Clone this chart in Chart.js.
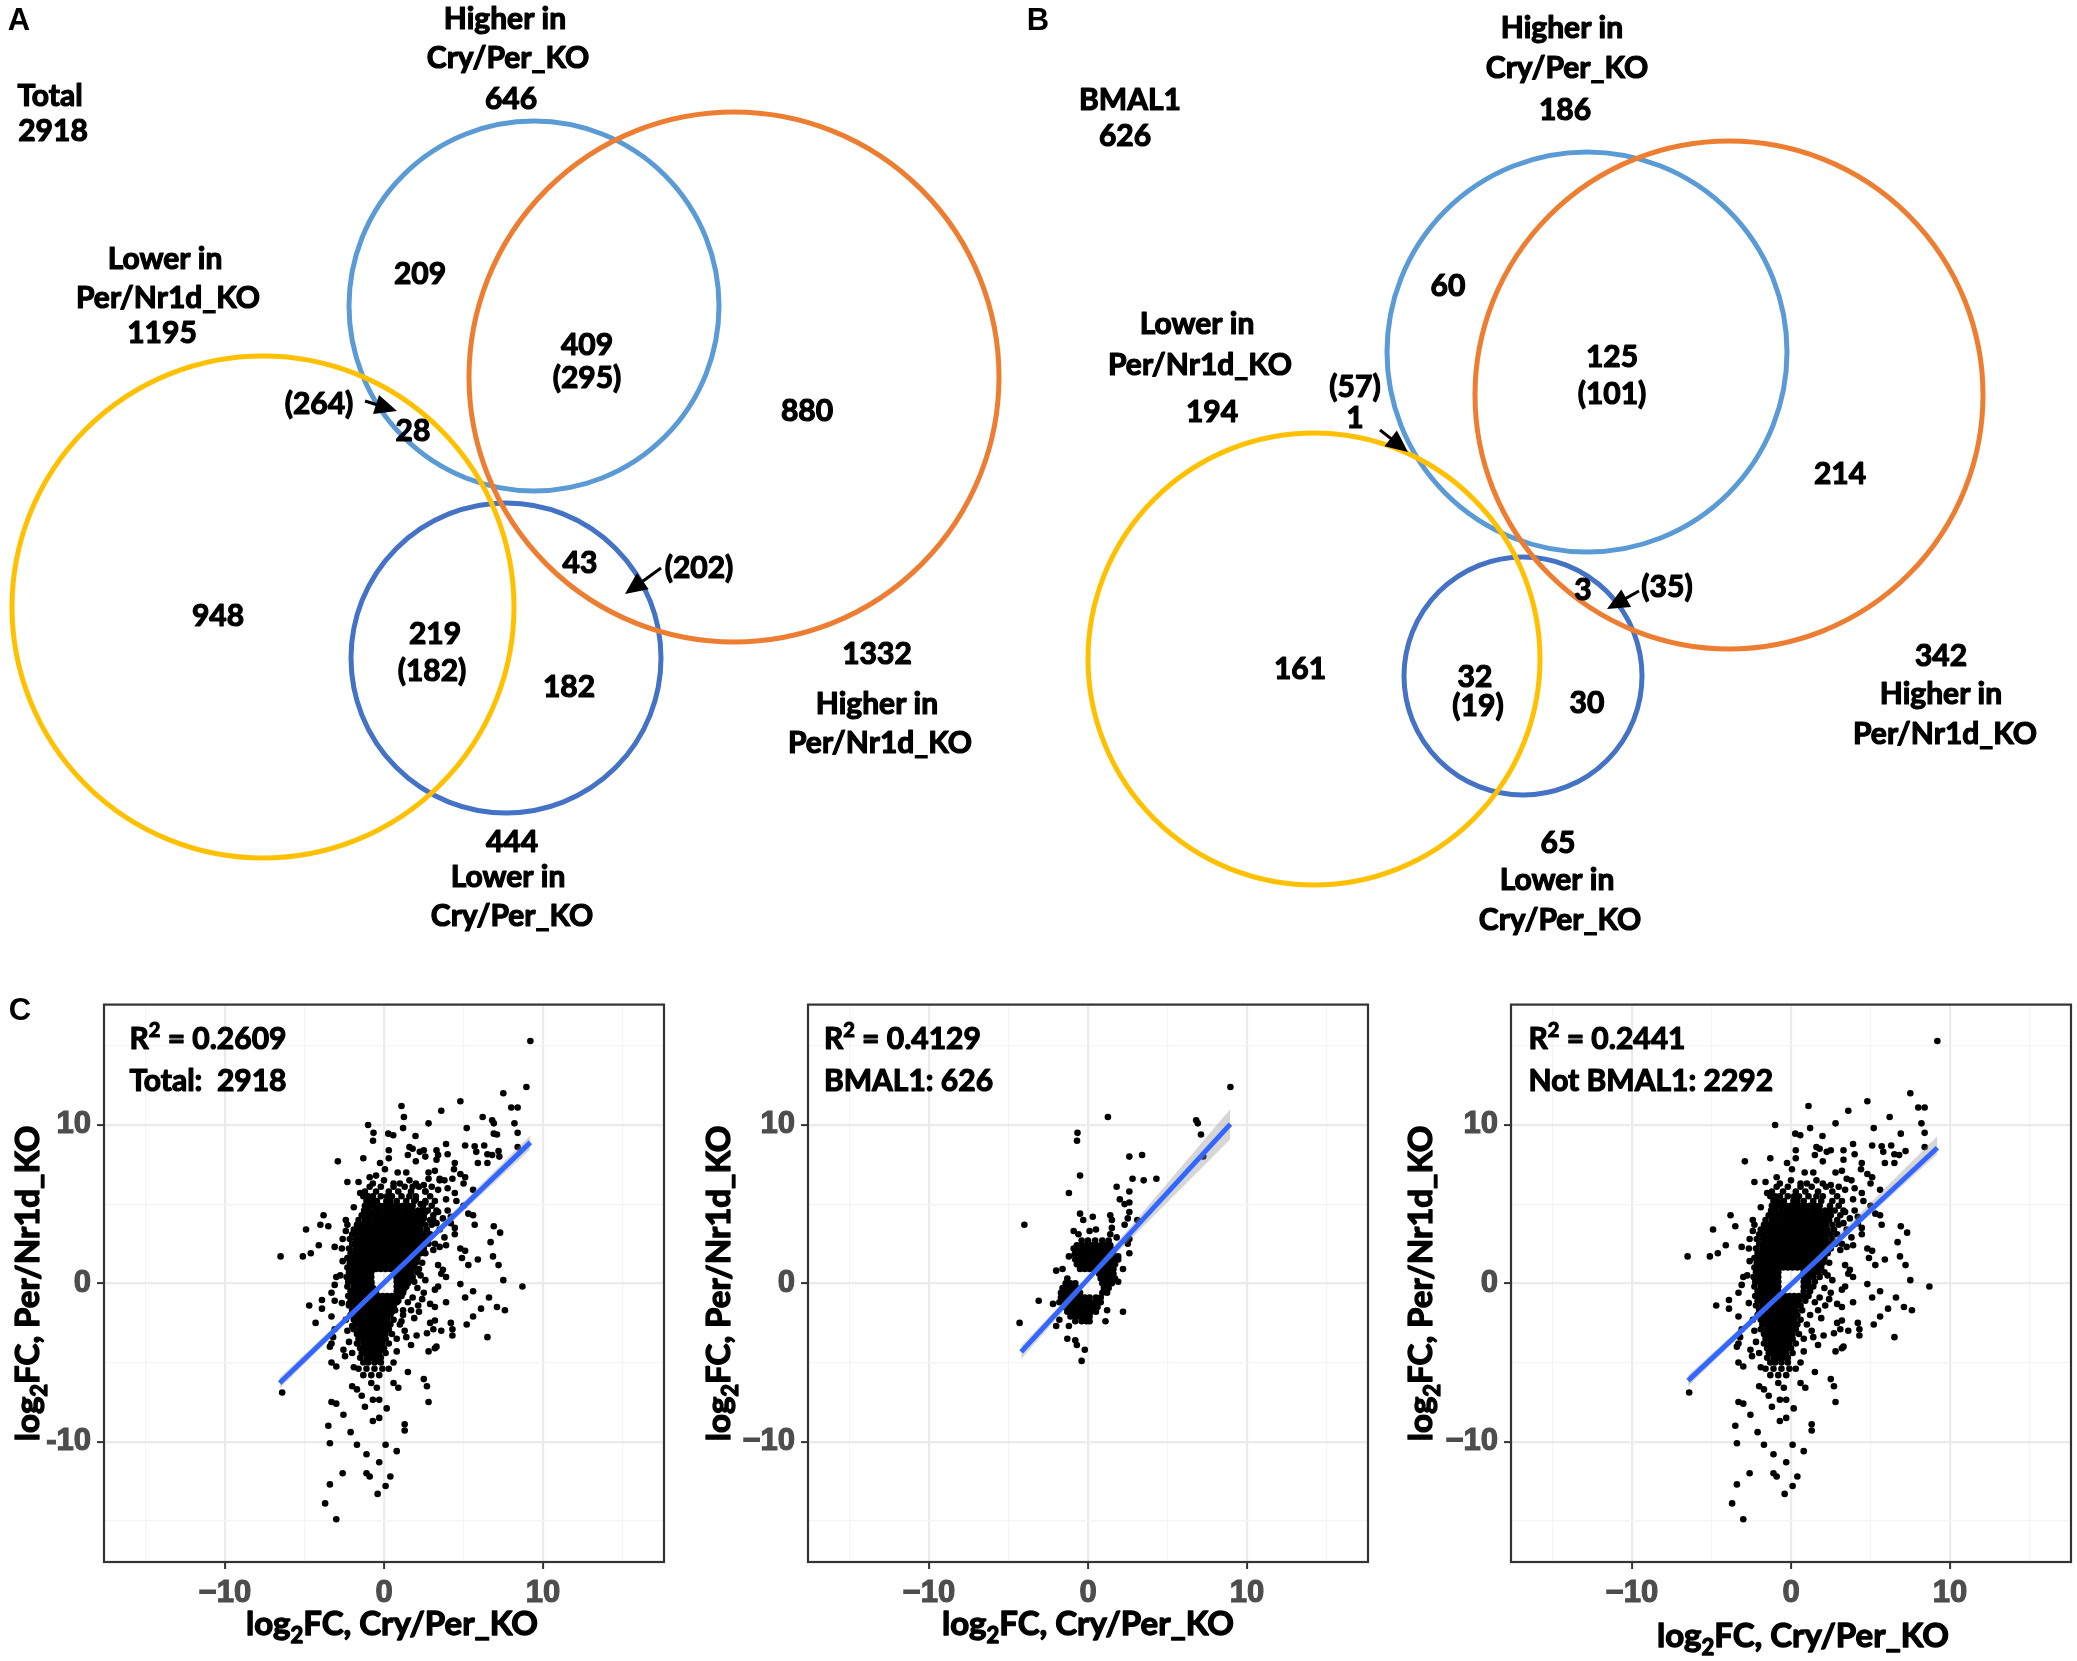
<!DOCTYPE html>
<html>
<head>
<meta charset="utf-8">
<script src="https://cdn.jsdelivr.net/npm/chart.js@4.4.1/dist/chart.umd.min.js"></script>
<style>
  html, body { margin: 0; padding: 0; background: #fff; }
  body { width: 2077px; height: 1661px; position: relative; overflow: hidden; }
  .panel { position: absolute; }
</style>
</head>
<body>
<div class="panel" style="left:0;top:0;width:1020px;height:960px"><canvas id="vennA"></canvas></div>
<div class="panel" style="left:1020px;top:0;width:1057px;height:960px"><canvas id="vennB"></canvas></div>
<div class="panel" style="left:0;top:980px;width:690px;height:681px"><canvas id="scTotal"></canvas></div>
<div class="panel" style="left:690px;top:980px;width:697px;height:681px"><canvas id="scBmal"></canvas></div>
<div class="panel" style="left:1387px;top:980px;width:690px;height:681px"><canvas id="scNot"></canvas></div>
<script>
// ---------- data ----------
// Venn A: all genes
const totalGenes = 2918;
const setNames = ['Higher in', 'Cry/Per_KO', 'Per/Nr1d_KO', 'Lower in'];
const vennASizes = [646, 1332, 1195, 444];      // up Cry/Per, up Per/Nr1d, down Per/Nr1d, down Cry/Per
const vennARegions = ['209', '409', '(295)', '880', '(264)', '28', '948', '43', '(202)', '219', '(182)', '182'];
// Venn B: BMAL1 targets
const bmal1Genes = 626;
const vennBSizes = [186, 342, 194, 65];
const vennBRegions = ['60', '125', '(101)', '214', '(57)', '1', '161', '3', '(35)', '32', '(19)', '30'];

// scatter: R^2 per subset
const r2Values = ['0.2609', '0.4129', '0.2441'];
const notBmal1Genes = 2292;
const tickValues = [-10, 0, 10];

// BMAL1 genes: dense core as rows [y, x...] and scattered points [x, y]
const bmal1Core = [
  [2.7, -0.4, 0.0, 0.45, 0.9, 1.3],
  [2.4, -0.7, -0.4, -0.1, 0.2, 0.5, 0.8, 1.1, 1.4],
  [2.1, -0.8, -0.5, -0.2, 0.1, 0.4, 0.7, 1.0, 1.3, 1.6],
  [1.8, -0.85, -0.5, -0.2, 0.1, 0.4, 0.7, 1.0, 1.3, 1.6],
  [1.5, -0.8, -0.5, -0.2, 0.1, 0.4, 0.7, 1.0, 1.3, 1.6, 1.9],
  [1.2, -0.7, -0.4, -0.1, 0.2, 0.5, 0.8, 1.1, 1.4, 1.7],
  [0.9, -0.5, -0.2, 0.1, 0.4, 0.7, 1.0, 1.3, 1.6],
  [0.6, 0.7, 1.0, 1.3, 1.6],
  [0.3, -1.3, 0.8, 1.1, 1.4, 1.7],
  [0.0, -1.4, -1.1, -0.8, 0.9, 1.2, 1.5],
  [-0.3, -1.6, -1.3, -1.0, -0.7, 1.0, 1.3],
  [-0.6, -1.7, -1.4, -1.1, -0.8, -0.5, 0.9, 1.2],
  [-0.9, -1.7, -1.4, -1.1, -0.8, -0.5, -0.2, 0.1, 0.5, 0.8],
  [-1.2, -1.6, -1.3, -1.0, -0.7, -0.4, -0.1, 0.2, 0.5, 0.8],
  [-1.5, -1.5, -1.2, -0.9, -0.6, -0.3, 0.0, 0.3, 0.6],
  [-1.8, -1.3, -1.0, -0.7, -0.4, -0.1, 0.2, 0.5],
  [-2.1, -1.1, -0.8, -0.5, -0.2, 0.1],
  [-2.4, -0.8, -0.4, -0.1]
];
const bmal1Spread = [
  [8.95,12.4],[1.25,10.5],[6.8,10.3],[6.9,10.1],[-0.66,9.5],[-0.69,9.0],[7.1,9.4],[7.25,8.0],[2.6,8.0],[3.4,8.1],
  [-0.5,6.8],[2.8,6.6],[3.5,6.5],[4.3,6.6],[-1.2,5.7],[1.8,6.1],[2.6,5.8],[2.0,5.3],[2.3,5.0],[2.6,5.1],
  [-4.0,3.7],[-0.5,4.4],[-0.3,4.0],[0.3,4.2],[1.4,4.3],[1.5,4.0],[2.6,4.5],[2.5,4.1],[3.1,4.0],[-0.9,3.3],
  [-0.6,3.1],[0.1,3.3],[0.5,3.4],[1.5,3.5],[1.4,3.1],[2.3,3.7],[1.8,2.9],[2.6,2.8],[2.5,2.5],[-0.9,2.2],
  [-1.2,1.7],[1.9,1.7],[2.6,1.9],[-2.0,0.8],[-1.6,0.9],[2.2,0.9],[1.9,0.1],[-3.1,-1.1],[-2.2,-1.3],[-1.8,-1.2],
  [-4.3,-2.5],[2.2,-1.8],[1.2,-1.7],[1.1,-2.4],[-2.0,-2.7],[-1.8,-2.3],[0.1,-2.4],[-1.2,-2.7],[-1.3,-3.5],
  [-0.8,-3.6],[-0.7,-3.9],[-0.2,-4.2],[-0.4,-4.9]
];

// Not-BMAL1 genes
const notBmal1Core = [
  [6.1, -0.9, -0.2, 0.6, 1.3, 2.2],
  [5.8, -1.2, -0.5, 0.3, 0.9, 1.7, 2.6],
  [5.5, -1.0, -0.7, -0.2, 0.2, 0.5, 1.1, 1.6, 2.0, 2.9],
  [5.2, -1.1, -0.8, -0.45, 0.15, 0.4, 0.8, 1.4, 1.9, 2.6, 3.2],
  [4.9, -1.2, -0.9, -0.6, -0.3, 0.0, 0.3, 0.6, 0.9, 1.2, 1.5, 1.8, 2.45, 3.0],
  [4.6, -1.25, -0.95, -0.6, -0.3, 0.05, 0.3, 0.6, 0.9, 1.25, 1.5, 1.8, 2.15, 2.4, 2.75, 3.3],
  [4.3, -1.4, -1.1, -0.8, -0.5, -0.2, 0.1, 0.4, 0.7, 1.0, 1.3, 1.6, 1.9, 2.2, 2.5, 3.1],
  [4.0, -1.6, -1.2, -0.9, -0.55, -0.3, 0.0, 0.3, 0.6, 0.95, 1.2, 1.5, 1.8, 2.1, 2.4, 2.9],
  [3.7, -1.7, -1.4, -1.1, -0.8, -0.5, -0.2, 0.1, 0.4, 0.7, 1.0, 1.3, 1.6, 1.9, 2.2, 2.6, 3.0],
  [3.4, -1.9, -1.6, -1.3, -1.0, -0.7, -0.4, -0.1, 0.2, 0.5, 0.8, 1.1, 1.4, 1.7, 2.0, 2.3, 2.7],
  [3.1, -2.0, -1.7, -1.4, -1.1, -0.8, -0.5, -0.2, 0.1, 0.4, 0.7, 1.0, 1.3, 1.6, 1.9, 2.2, 2.5, 2.9],
  [2.8, -2.15, -1.75, -1.4, -1.1, -0.8, -0.5, -0.2, 0.1, 0.4, 0.7, 1.0, 1.3, 1.6, 1.9, 2.2, 2.6],
  [2.5, -2.0, -1.7, -1.5, -1.2, -0.9, -0.6, -0.3, 0.0, 0.3, 0.6, 0.9, 1.2, 1.5, 1.8, 2.1, 2.4, 2.8],
  [2.2, -2.2, -1.8, -1.5, -1.2, -0.9, -0.6, -0.3, 0.0, 0.3, 0.6, 0.9, 1.2, 1.5, 1.8, 2.1, 2.5],
  [1.9, -2.1, -1.9, -1.6, -1.3, -1.0, -0.7, -0.4, -0.1, 0.2, 0.5, 0.8, 1.1, 1.4, 1.7, 2.0, 2.3],
  [1.6, -2.3, -1.95, -1.6, -1.3, -1.0, -0.7, -0.4, -0.1, 0.2, 0.5, 0.8, 1.1, 1.4, 1.7, 2.1],
  [1.3, -2.15, -1.9, -1.6, -1.3, -1.0, -0.7, -0.4, -0.1, 0.2, 0.5, 0.8, 1.1, 1.4, 1.7, 2.0, 2.4],
  [1.0, -2.3, -2.0, -1.7, -1.4, -1.1, -0.8, -0.5, -0.2, 0.1, 0.4, 0.7, 1.0, 1.3, 1.6, 1.9],
  [0.7, -2.2, -2.0, -1.7, -1.4, -1.1, -0.8, 0.8, 1.1, 1.4, 1.7, 2.1],
  [0.4, -2.35, -2.0, -1.7, -1.4, -1.1, -0.8, 0.8, 1.1, 1.4, 1.8],
  [0.1, -2.25, -2.0, -1.7, -1.4, -1.1, -0.8, 0.8, 1.1, 1.5],
  [-0.2, -2.3, -1.9, -1.6, -1.3, -1.0, -0.8, 0.8, 1.1, 1.4],
  [-0.5, -2.1, -1.9, -1.6, -1.3, -1.0, -0.8, 0.8, 1.2],
  [-0.8, -2.25, -1.9, -1.6, -1.3, -1.0, -0.7, -0.4, -0.1, 0.2, 0.5, 0.8, 1.1],
  [-1.1, -2.1, -1.9, -1.6, -1.3, -1.0, -0.7, -0.4, -0.1, 0.2, 0.5, 0.9],
  [-1.4, -2.2, -1.8, -1.5, -1.2, -0.9, -0.6, -0.3, 0.0, 0.3, 0.6],
  [-1.7, -2.0, -1.8, -1.5, -1.2, -0.9, -0.6, -0.3, 0.0, 0.3, 0.7],
  [-2.0, -2.1, -1.7, -1.4, -1.1, -0.8, -0.5, -0.2, 0.1, 0.4],
  [-2.3, -1.9, -1.6, -1.3, -1.0, -0.7, -0.4, -0.1, 0.2, 0.6],
  [-2.6, -1.8, -1.6, -1.3, -1.0, -0.7, -0.4, -0.1, 0.2, 0.4],
  [-2.9, -1.9, -1.5, -1.2, -0.9, -0.6, -0.3, 0.0, 0.3],
  [-3.2, -1.7, -1.4, -1.1, -0.8, -0.5, -0.2, 0.1, 0.5],
  [-3.5, -1.6, -1.4, -1.1, -0.8, -0.5, -0.2, 0.1],
  [-3.8, -1.7, -1.3, -1.0, -0.7, -0.4, -0.1, 0.3],
  [-4.1, -1.5, -1.2, -0.9, -0.6, -0.3, 0.0],
  [-4.4, -1.4, -1.2, -0.9, -0.6, -0.3, 0.1],
  [-4.7, -1.5, -1.1, -0.8, -0.5, -0.2],
  [-5.0, -1.3, -1.0, -0.6, -0.2],
  [-5.4, -1.6, -1.1, -0.6, -0.1],
  [-5.8, -1.3, -0.8, -0.3]
];
const notBmal1Spread = [
  [0.27,9.45],[0.58,9.35],[1.98,9.3],[3.9,8.8],[5.1,8.7],[5.7,8.65],[6.3,8.7],[6.9,9.45],
  [-2.9,7.7],[-1.3,7.9],[0.3,8.4],[0.3,7.9],[1.6,8.6],[1.8,8.5],[1.5,8.1],[2.0,7.7],[2.25,8.3],[2.5,8.4],
  [3.3,8.4],[3.3,7.8],[4.0,8.15],[4.45,7.6],[5.8,8.3],[6.5,8.15],[7.2,8.35],[6.8,8.1],[6.5,7.6],[5.9,7.6],
  [-0.25,7.6],[0.06,7.2],[0.86,7.0],[-2.3,6.4],[-1.6,6.4],[-0.9,6.7],[-0.7,6.3],[0,6.5],[0.6,6.3],[1.0,6.3],
  [1.4,7.0],[1.6,6.5],[2.8,7.0],[3.2,7.1],[3.5,6.6],[3.8,6.5],[4.4,7.2],[4.8,6.9],[5.1,6.7],[5.0,6.3],[5.6,5.9],
  [-1.5,5.7],[-1.3,5.5],[-1.9,4.8],[2.0,6.3],[2.5,6.2],[3.0,6.1],[3.4,5.9],[4.0,6.0],[4.45,5.7],[3.9,5.3],
  [4.55,5.2],[5.0,4.9],[5.3,4.4],[4.0,4.6],[4.2,4.2],
  [-3.8,4.3],[-3.5,3.6],[-4.9,3.4],[-2.4,4.0],[-2.3,3.7],[-3.1,2.3],[-2.65,2.2],[-4.1,2.4],[-4.6,1.9],[-5.1,1.7],
  [-3.0,0.4],[-2.75,0.5],[-3.1,-0.1],[-3.3,-0.6],[-3.9,-1.05],[-4.7,-1.4],[-3.9,-1.6],[-3.3,-2.1],[-2.65,-1.25],
  [-3.1,-2.9],[-3.2,-3.4],[-3.3,-3.8],[-3.4,-4.0],[-2.55,-4.2],[-2.45,-4.6],[-3.3,-5.0],[-3.0,-5.25],[-3.3,-7.5],
  [-3.0,-7.6],[-2.55,-8.3],[-3.5,-9.0],[-2.0,-6.5],[-1.7,-6.7],[-1.4,-7.1],[-1.2,-7.8],[-0.8,-6.3],[-0.45,-6.6],
  [-0.7,-7.35],[-0.3,-7.35],[0.17,-7.9],[-0.7,-8.7],[-0.3,-8.5],[1.3,-8.9],[0.6,-6.3],[0.9,-6.6],[1.5,-5.6],
  [2.5,-6.05],[2.7,-6.5],[2.8,-7.5],
  [3.3,-4.0],[2.8,-4.3],[3.2,-4.1],[1.7,-3.9],[1.4,-3.4],[2.05,-3.3],[2.9,-2.5],[3.2,-2.35],[3.6,-3.0],[4.3,-3.3],
  [6.5,-3.4],[5.2,-2.6],[5.6,-2.1],[3.9,-1.2],[5.1,-0.9],[4.8,-0.05],[5.6,-0.5],[6.1,-1.6],[6.6,-0.9],[7.1,-1.5],
  [7.6,-1.7],[4.9,1.6],[5.3,1.15],[5.9,1.5],[6.85,1.7],[7.2,1.15],[7.5,0.2],[3.6,0.6],[3.9,0.4],[3.4,1.15],
  [3.7,0.85],[3.9,2.4],[4.45,3.1],[4.8,2.2],[5.1,2.05],[5.7,3.7],[5.6,4.3],[6.7,2.6],[6.9,3.6],[7.3,3.2],
  [4.2,3.8],[4.45,3.5],[3.5,3.4],[3.8,2.9],[3.2,2.5],[3.1,2.1],[3.5,2.3],[3.2,-0.4],[3.4,-0.2],[2.9,-1.3],
  [3.2,-1.5],[2.15,-1.4],[1.7,-1.7],[2.7,-3.15],[3.1,-2.9],[4.2,-2.5],[4.3,-2.9],
  [2.3,0.5],[2.6,0.2],[2.1,-0.3],[2.5,-0.6],[1.8,-0.9],[2.4,-1.0],[1.5,-1.2],[1.9,-2.2],[1.2,-2.0],[1.0,-2.6],
  [1.3,-3.0],[0.8,-3.5],[0.8,-4.3],[0.6,-5.0],[0.3,-5.4],[-2.4,-2.3],[-2.3,-3.0],[-2.2,-3.7],[-2.0,-4.4],
  [-1.9,-5.3],[-2.6,1.4],[-2.6,2.8],[-2.4,3.3],[3.4,4.5],[3.7,4.1],[3.3,3.8],
  [9.2,15.3],[7.5,12.0],[4.8,11.5],[1.1,11.2],[3.6,10.9],[8.0,11.1],[8.4,11.1],[6.2,10.5],[2.8,10.1],[-1.0,10.0],
  [8.2,10.1],[5.2,9.8],[1.2,9.8],[8.4,9.5],[8.4,8.6],[8.7,-0.2],[-6.5,1.7],[-6.4,-6.9],[-3.4,-10.1],[-1.7,-10.2],
  [0.1,-10.2],[-1.1,-10.8],[0.8,-10.6],[-0.3,-11.3],[-2.6,-12.0],[-1.1,-12.0],[-0.9,-12.2],[0.4,-12.2],
  [-3.4,-12.7],[0.1,-12.8],[-0.4,-13.3],[-3.7,-13.9],[-3.0,-14.9],[-2.1,-9.4],[1.3,-9.3]
];

// linear fits: end points and confidence band [x, lower, upper]
const fitTotal = [[-6.56, -6.3], [9.2, 8.9]];
const bandTotal = [[-6.56, -6.65, -5.95], [0.3, 0.2, 0.44], [9.2, 8.45, 9.35]];
const fitBmal1 = [[-4.2, -4.33], [8.95, 10.05]];
const bandBmal1 = [[-4.2, -4.8, -3.95], [0.3, 0.4, 0.78], [8.95, 9.1, 11.0]];
const fitNotBmal1 = [[-6.47, -6.15], [9.2, 8.56]];
const bandNotBmal1 = [[-6.47, -6.5, -5.8], [0.3, 0.08, 0.36], [9.2, 8.15, 9.3]];

// ---------- helpers ----------
const TEXT_FONT = 'Lato';
const AXIS_FONT = 'Liberation Sans';
const VENN_COLORS = { lightBlue: '#5B9BD5', orange: '#ED7D31', yellow: '#FFC000', darkBlue: '#4472C4' };

const rowsToPoints = rows => rows.flatMap(([y, ...xs]) => xs.map(x => ({ x, y })));
const pairsToPoints = pairs => pairs.map(([x, y]) => ({ x, y }));

// text with optional sub (1) / superscript (2) parts, a light stroke makes it as heavy as the original
function drawRich(ctx, parts, x, yCenter, size, align) {
  const fontFor = m => `bold ${m ? Math.round(size * 0.66) : size}px ${TEXT_FONT}`;
  let w = 0;
  parts.forEach(([t, m]) => { ctx.font = fontFor(m); w += ctx.measureText(t).width; });
  let cx = align === 'center' ? x - w / 2 : x;
  const base = yCenter + size * 0.36;
  ctx.textAlign = 'left';
  ctx.textBaseline = 'alphabetic';
  ctx.strokeStyle = ctx.fillStyle;
  ctx.lineWidth = size * 0.04;
  ctx.lineJoin = 'round';
  parts.forEach(([t, m]) => {
    ctx.font = fontFor(m);
    const dy = m === 1 ? size * 0.24 : m === 2 ? -size * 0.4 : 0;
    ctx.fillText(t, cx, base + dy);
    ctx.strokeText(t, cx, base + dy);
    cx += ctx.measureText(t).width;
  });
}

function drawArrow(ctx, x1, y1, x2, y2) {
  const a = Math.atan2(y2 - y1, x2 - x1);
  const head = 22, half = 10;
  ctx.lineWidth = 3;
  ctx.strokeStyle = '#000';
  ctx.beginPath();
  ctx.moveTo(x1, y1);
  ctx.lineTo(x2 - Math.cos(a) * head * 0.8, y2 - Math.sin(a) * head * 0.8);
  ctx.stroke();
  ctx.beginPath();
  ctx.moveTo(x2, y2);
  ctx.lineTo(x2 - Math.cos(a) * head - Math.sin(a) * half, y2 - Math.sin(a) * head + Math.cos(a) * half);
  ctx.lineTo(x2 - Math.cos(a) * head + Math.sin(a) * half, y2 - Math.sin(a) * head - Math.cos(a) * half);
  ctx.closePath();
  ctx.fill();
}

// ---------- Venn diagrams ----------
function vennChart(id, widthUnits, circles, labels, arrows, letter) {
  const textPlugin = {
    id: 'vennText',
    afterDatasetsDraw(chart) {
      const { ctx, scales: { x, y } } = chart;
      ctx.save();
      ctx.fillStyle = '#000';
      labels.forEach(([t, lx, ly]) => drawRich(ctx, [[t, 0]], x.getPixelForValue(lx), y.getPixelForValue(ly), 30, 'center'));
      arrows.forEach(([ax, ay, bx, by]) => drawArrow(ctx, x.getPixelForValue(ax), y.getPixelForValue(ay), x.getPixelForValue(bx), y.getPixelForValue(by)));
      ctx.font = `bold 31px ${AXIS_FONT}`;
      ctx.textAlign = 'center';
      ctx.textBaseline = 'middle';
      ctx.fillText(letter[0], x.getPixelForValue(letter[1]), y.getPixelForValue(letter[2]));
      ctx.restore();
    }
  };
  const radiusPx = ctx => {
    const sx = ctx.chart.scales.x;
    return ctx.raw ? Math.abs(sx.getPixelForValue(ctx.raw.x + ctx.raw.r) - sx.getPixelForValue(ctx.raw.x)) : 0;
  };
  new Chart(document.getElementById(id), {
    type: 'scatter',
    data: {
      datasets: circles.map((c, i) => ({
        data: [{ x: c.cx, y: c.cy, r: c.r }],
        borderColor: c.color,
        backgroundColor: 'rgba(0,0,0,0)',
        borderWidth: 5,
        pointRadius: radiusPx,
        pointHoverRadius: radiusPx,
        order: circles.length - i
      }))
    },
    options: {
      responsive: true, maintainAspectRatio: false, animation: false, events: [],
      layout: { padding: 0 },
      plugins: { legend: { display: false }, tooltip: { enabled: false } },
      scales: {
        x: { type: 'linear', min: 0, max: widthUnits, display: false },
        y: { type: 'linear', min: 0, max: 96, reverse: true, display: false }
      }
    },
    plugins: [textPlugin]
  });
}

// panel A (1 unit = 10 px)
vennChart('vennA', 102, [
  { cx: 53.4, cy: 30.6, r: 18.5, color: VENN_COLORS.lightBlue },
  { cx: 50.6, cy: 65.8, r: 15.5, color: VENN_COLORS.darkBlue },
  { cx: 26.3, cy: 60.7, r: 25.1, color: VENN_COLORS.yellow },
  { cx: 73.4, cy: 37.7, r: 26.5, color: VENN_COLORS.orange }
], [
  ['Total', 5.0, 9.5], [String(totalGenes), 5.3, 13.0],
  [setNames[0], 50.5, 1.8], [setNames[1], 50.8, 5.7], [String(vennASizes[0]), 51.1, 9.8],
  ['Lower in', 16.5, 25.8], [setNames[2], 16.8, 29.7], [String(vennASizes[2]), 16.2, 33.2],
  [vennARegions[0], 42.0, 27.3], [vennARegions[1], 58.7, 34.4], [vennARegions[2], 58.7, 37.7],
  [vennARegions[3], 80.7, 41.0], [vennARegions[4], 31.9, 40.3], [vennARegions[5], 41.3, 43.0],
  [vennARegions[6], 21.8, 61.5], [vennARegions[7], 58.0, 56.2], [vennARegions[8], 69.9, 56.7],
  [vennARegions[9], 43.5, 63.3], [vennARegions[10], 43.2, 67.0], [vennARegions[11], 56.9, 68.6],
  [String(vennASizes[1]), 87.7, 65.3], [setNames[0], 87.7, 70.3], [setNames[2], 88.0, 74.2],
  [String(vennASizes[3]), 51.2, 84.1], [setNames[3], 50.8, 87.6], [setNames[1], 51.2, 91.5]
], [
  [36.5, 40.1, 39.7, 41.1],
  [66.1, 56.8, 62.5, 59.4]
], ['A', 1.9, 2.1]);

// panel B
vennChart('vennB', 105.7, [
  { cx: 56.7, cy: 35.2, r: 20.0, color: VENN_COLORS.lightBlue },
  { cx: 50.3, cy: 67.6, r: 11.9, color: VENN_COLORS.darkBlue },
  { cx: 29.4, cy: 65.9, r: 22.6, color: VENN_COLORS.yellow },
  { cx: 70.9, cy: 39.5, r: 25.4, color: VENN_COLORS.orange }
], [
  ['BMAL1', 11.0, 9.9], [String(bmal1Genes), 10.5, 13.5],
  [setNames[0], 54.2, 2.7], [setNames[1], 54.7, 6.7], [String(vennBSizes[0]), 54.5, 10.9],
  ['Lower in', 17.7, 32.3], [setNames[2], 18.0, 36.4], [String(vennBSizes[2]), 19.2, 41.1],
  [vennBRegions[0], 42.8, 28.5], [vennBRegions[1], 59.2, 35.6], [vennBRegions[2], 59.2, 39.3],
  [vennBRegions[3], 82.0, 47.3], [vennBRegions[4], 33.5, 38.6], [vennBRegions[5], 33.5, 41.7],
  [vennBRegions[6], 28.0, 66.8], [vennBRegions[7], 56.3, 58.9], [vennBRegions[8], 64.7, 58.6],
  [vennBRegions[9], 45.5, 67.6], [vennBRegions[10], 45.8, 70.5], [vennBRegions[11], 56.7, 70.2],
  [String(vennBSizes[1]), 92.1, 65.5], [setNames[0], 92.1, 69.3], [setNames[2], 92.5, 73.3],
  [String(vennBSizes[3]), 53.8, 84.2], [setNames[3], 53.7, 87.9], [setNames[1], 54.0, 91.9]
], [
  [36.0, 43.0, 38.8, 45.2],
  [61.9, 59.1, 58.7, 60.9]
], ['B', 1.8, 2.1]);

// ---------- scatter panels ----------
function scatterChart(id, points, fit, band, notes, layout) {
  const minus = (v, sign) => (v < 0 ? sign + Math.abs(v) : String(v));
  const isMajor = c => c.tick && tickValues.includes(c.tick.value);
  const axisOpts = (isX) => ({
    type: 'linear', min: -17.6, max: 17.6,
    ticks: {
      stepSize: 5, includeBounds: false, autoSkip: false, maxRotation: 0,
      padding: 6, color: '#4D4D4D',
      textStrokeColor: '#4D4D4D', textStrokeWidth: 1.2,
      font: { family: AXIS_FONT, size: 31, weight: 'bold' },
      callback: v => (tickValues.includes(v) ? minus(v, isX ? '\u2212' : layout.ySign) : '')
    },
    grid: {
      color: c => (isMajor(c) ? '#EBEBEB' : '#F4F4F4'),
      lineWidth: c => (isMajor(c) ? 2.2 : 1.2),
      tickColor: c => (isMajor(c) ? '#333333' : 'rgba(0,0,0,0)'),
      tickLength: 7, tickWidth: 2
    },
    border: { display: false },
    afterFit: s => { if (isX) s.height = 99; else s.width = layout.axisW; }
  });
  const framePlugin = {
    id: 'frame',
    afterDraw(chart) {
      const { ctx, chartArea: a, scales: { x, y } } = chart;
      ctx.save();
      ctx.strokeStyle = '#333333';
      ctx.lineWidth = 2.2;
      ctx.strokeRect(a.left, a.top, a.right - a.left, a.bottom - a.top);
      ctx.fillStyle = '#000';
      drawRich(ctx, [['R', 0], ['2', 2], [' = ' + notes[0], 0]], x.getPixelForValue(notes[2]), y.getPixelForValue(15.5), 30, 'left');
      drawRich(ctx, [[notes[1], 0]], x.getPixelForValue(notes[2]), y.getPixelForValue(12.8), 30, 'left');
      drawRich(ctx, [['log', 0], ['2', 1], ['FC, Cry/Per_KO', 0]], (a.left + a.right) / 2 + layout.xTitleDx, layout.xTitleY, 33, 'center');
      ctx.save();
      ctx.translate(layout.yTitleX, (a.top + a.bottom) / 2);
      ctx.rotate(-Math.PI / 2);
      drawRich(ctx, [['log', 0], ['2', 1], ['FC, Per/Nr1d_KO', 0]], 0, 0, 33, 'center');
      ctx.restore();
      if (layout.letter) {
        ctx.font = `bold 31px ${AXIS_FONT}`;
        ctx.textAlign = 'center';
        ctx.textBaseline = 'middle';
        ctx.fillText(layout.letter, 20, 31);
      }
      ctx.restore();
    }
  };
  new Chart(document.getElementById(id), {
    type: 'scatter',
    data: {
      datasets: [
        { data: band.map(b => ({ x: b[0], y: b[1] })), showLine: true, borderWidth: 0, borderColor: 'rgba(0,0,0,0)', pointRadius: 0, fill: false, order: 1 },
        { data: band.map(b => ({ x: b[0], y: b[2] })), showLine: true, borderWidth: 0, borderColor: 'rgba(0,0,0,0)', pointRadius: 0, fill: '-1', backgroundColor: 'rgba(153,153,153,0.4)', order: 1 },
        { data: points, pointRadius: 3.3, pointBackgroundColor: '#000', pointBorderWidth: 0, order: 2 },
        { data: fit.map(([x, y]) => ({ x, y })), showLine: true, borderColor: '#3366FF', borderWidth: 5, pointRadius: 0, fill: false, order: 0 }
      ]
    },
    options: {
      responsive: true, maintainAspectRatio: false, animation: false, events: [],
      layout: { padding: { top: 23, right: layout.padR, left: 0, bottom: 0 } },
      plugins: { legend: { display: false }, tooltip: { enabled: false } },
      scales: { x: axisOpts(true), y: axisOpts(false) }
    },
    plugins: [framePlugin]
  });
}

const bmal1Points = rowsToPoints(bmal1Core).concat(pairsToPoints(bmal1Spread));
const notBmal1Points = rowsToPoints(notBmal1Core).concat(pairsToPoints(notBmal1Spread));
const totalPoints = notBmal1Points.concat(bmal1Points);

scatterChart('scTotal', totalPoints, fitTotal, bandTotal,
  [r2Values[0], 'Total:  ' + totalGenes, -16.0],
  { axisW: 104, padR: 26, yTitleX: 27, xTitleY: 643, xTitleDx: 8, letter: 'C', ySign: '-' });
scatterChart('scBmal', bmal1Points, fitBmal1, bandBmal1,
  [r2Values[1], 'BMAL1: ' + bmal1Genes, -16.6],
  { axisW: 118, padR: 19, yTitleX: 28, xTitleY: 643, xTitleDx: 0, ySign: '\u2212' });
scatterChart('scNot', notBmal1Points, fitNotBmal1, bandNotBmal1,
  [r2Values[2], 'Not BMAL1: ' + notBmal1Genes, -16.5],
  { axisW: 124, padR: 6, yTitleX: 33, xTitleY: 655, xTitleDx: 12, ySign: '\u2212' });
</script>
</body>
</html>
